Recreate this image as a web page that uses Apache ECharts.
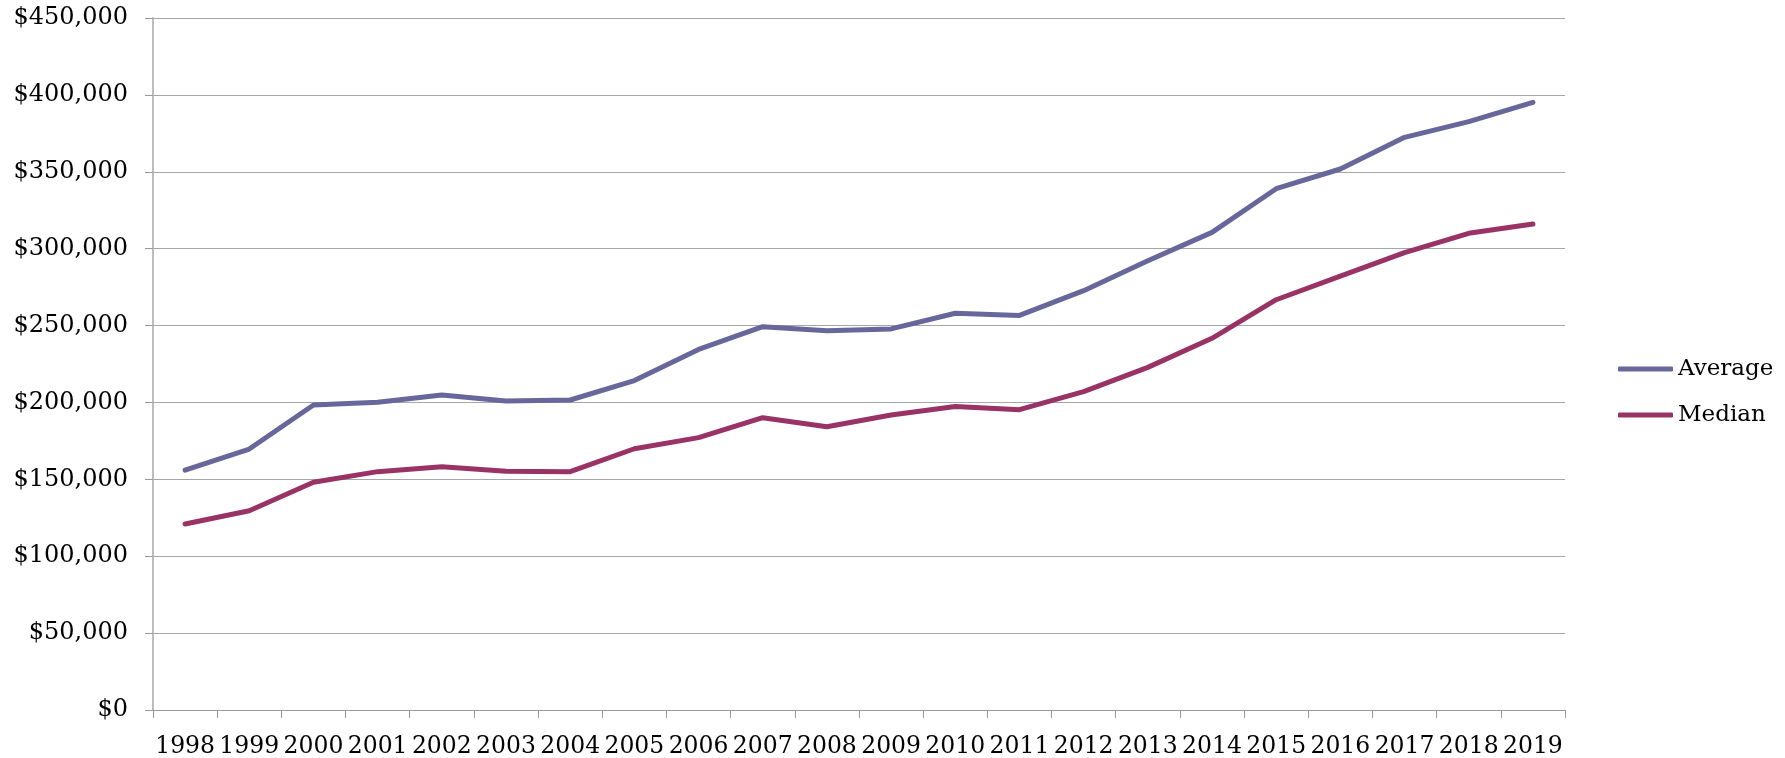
<!DOCTYPE html>
<html>
<head>
<meta charset="utf-8">
<script src="https://cdn.jsdelivr.net/npm/echarts@6/dist/echarts.min.js"></script>
<style>
html,body{margin:0;padding:0;background:#fff;}
#chart{width:1785px;height:758px;}
</style>
</head>
<body>
<div id="chart"></div>
<script>
const years = ['1998','1999','2000','2001','2002','2003','2004','2005','2006','2007','2008','2009','2010','2011','2012','2013','2014','2015','2016','2017','2018','2019'];
const averagePrice = [156000,169700,198300,200100,204800,200900,201600,214200,234500,249300,246700,247800,258000,256600,272700,292200,310600,339000,351800,372400,382600,395200];
const medianPrice = [121000,129600,148100,155000,158200,155200,155000,169900,177100,190100,184200,191800,197400,195300,207000,222800,241700,266800,282200,297400,310000,316000];
const seriesNames = ['Average','Median'];

const FONT = 'DejaVu Serif';
const chart = echarts.init(document.getElementById('chart'), null, {renderer:'canvas'});
chart.setOption({
  backgroundColor:'#ffffff',
  animation:false,
  grid:{left:153, right:220, top:18, bottom:48, containLabel:false, outerBoundsMode:'none'},
  legend:{
    orient:'vertical',
    left:1613, top:352,
    itemWidth:55, itemHeight:5,
    itemGap:22,
    icon:'roundRect',
    textStyle:{fontFamily:FONT, fontSize:23, color:'#000', lineHeight:24},
    data:seriesNames
  },
  xAxis:{
    type:'category',
    data:years,
    boundaryGap:true,
    axisLine:{show:true, lineStyle:{color:'#999999', width:1}},
    axisTick:{show:true, length:8, lineStyle:{color:'#999999', width:1}},
    axisLabel:{interval:0, hideOverlap:false, margin:25, fontFamily:FONT, fontSize:23.5, color:'#000'}
  },
  yAxis:{
    type:'value',
    min:0, max:450000, interval:50000,
    axisLine:{show:true, lineStyle:{color:'#bdbdbd', width:2}},
    axisTick:{show:true, length:8, lineStyle:{color:'#999999', width:1}},
    splitLine:{show:true, lineStyle:{color:'#a6a6a6', width:1}},
    axisLabel:{margin:25, fontFamily:FONT, fontSize:24, color:'#000',
      formatter:function(v){return '$' + v.toLocaleString('en-US');}}
  },
  series:[
    {name:seriesNames[0], type:'line', data:averagePrice, showSymbol:false, symbol:'none',
     lineStyle:{color:'#67679b', width:5, cap:'round', join:'round'}, itemStyle:{color:'#67679b'}},
    {name:seriesNames[1], type:'line', data:medianPrice, showSymbol:false, symbol:'none',
     lineStyle:{color:'#993366', width:5, cap:'round', join:'round'}, itemStyle:{color:'#993366'}}
  ]
});
</script>
</body>
</html>
